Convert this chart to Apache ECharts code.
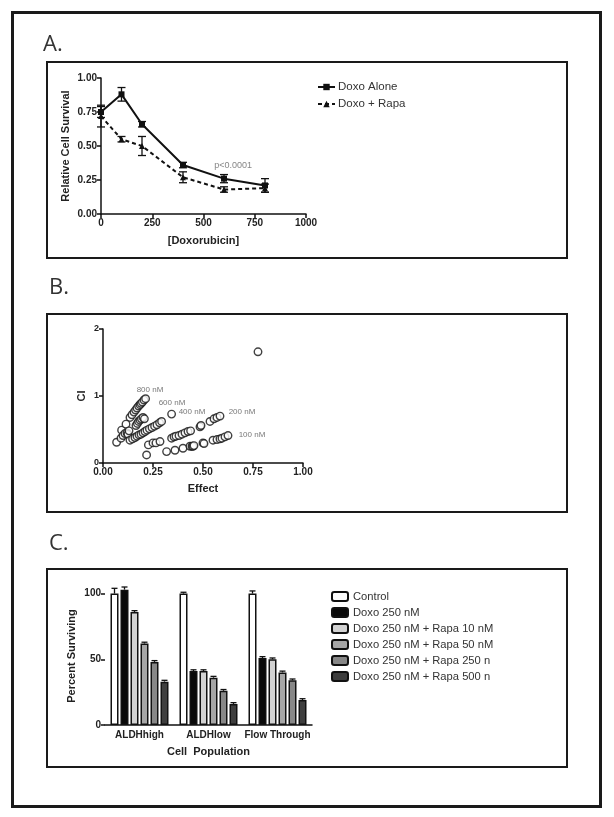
<!DOCTYPE html>
<html><head><meta charset="utf-8">
<script src="https://cdn.jsdelivr.net/npm/echarts@6/dist/echarts.min.js"></script>
<style>html,body{margin:0;padding:0;background:#fff}#c{width:614px;height:817px}</style>
</head><body><div id="c"></div>
<script>
// ---------- Panel A data ----------
const doseA = [0, 100, 200, 400, 600, 800];
const doxoAlone = [0.75, 0.88, 0.66, 0.36, 0.26, 0.21];
const doxoAloneErr = [0.04, 0.05, 0.02, 0.02, 0.03, 0.05];
const doxoRapa = [0.72, 0.55, 0.50, 0.27, 0.18, 0.19];
const doxoRapaErr = [0.08, 0.02, 0.07, 0.04, 0.02, 0.03];
const xTicksA = [0, 250, 500, 750, 1000];
const yTicksA = [0, 0.25, 0.5, 0.75, 1.0];
const pAnnot = [{name: 'p<0.0001', value: [645, 0.355]}];

// ---------- Panel B data (Effect, CI) ----------
const ciPoints = [
  [0.135,0.68],[0.145,0.72],[0.155,0.76],[0.163,0.79],[0.17,0.82],[0.178,0.85],[0.185,0.87],[0.19,0.89],[0.197,0.91],[0.205,0.94],[0.213,0.96],
  [0.068,0.31],[0.09,0.37],[0.093,0.49],[0.1,0.41],[0.11,0.44],[0.115,0.58],[0.12,0.45],[0.125,0.43],[0.13,0.48],
  [0.165,0.56],[0.172,0.59],[0.178,0.62],[0.185,0.64],[0.192,0.66],[0.2,0.68],[0.207,0.66],
  [0.135,0.34],[0.148,0.36],[0.16,0.38],[0.17,0.40],[0.18,0.42],[0.19,0.43],[0.2,0.45],[0.21,0.47],[0.22,0.49],[0.232,0.51],[0.245,0.53],[0.258,0.55],[0.27,0.57],[0.283,0.60],[0.293,0.62],
  [0.343,0.73],
  [0.227,0.27],[0.25,0.30],[0.265,0.30],[0.285,0.32],[0.343,0.37],[0.355,0.39],[0.365,0.40],[0.38,0.41],[0.395,0.43],[0.41,0.45],[0.425,0.47],[0.438,0.48],[0.485,0.54],[0.49,0.56],[0.535,0.62],[0.555,0.66],[0.57,0.68],[0.585,0.70],
  [0.218,0.12],[0.318,0.17],[0.36,0.19],[0.40,0.22],[0.435,0.25],[0.445,0.25],[0.45,0.25],[0.455,0.26],[0.50,0.30],[0.505,0.29],[0.55,0.34],[0.57,0.35],[0.585,0.36],[0.595,0.37],[0.61,0.39],[0.625,0.41],
  [0.775,1.66]
];
const doseLabelsB = [
  {name: '800 nM', value: [0.235, 1.10]},
  {name: '600 nM', value: [0.345, 0.90]},
  {name: '400 nM', value: [0.445, 0.77]},
  {name: '200 nM', value: [0.695, 0.77]},
  {name: '100 nM', value: [0.745, 0.42]}
];
const xTicksB = [0, 0.25, 0.5, 0.75, 1.0];
const yTicksB = [0, 1, 2];

// ---------- Panel C data ----------
const populations = ['ALDHhigh', 'ALDHlow', 'Flow Through'];
const treatments = ['Control', 'Doxo 250 nM', 'Doxo 250 nM + Rapa 10 nM', 'Doxo 250 nM + Rapa 50 nM', 'Doxo 250 nM + Rapa 250 nM', 'Doxo 250 nM + Rapa 500 nM'];
const survival = [
  [100, 100, 100],
  [103, 41, 51],
  [86, 41, 50],
  [62, 36, 40],
  [48, 26, 34],
  [33, 16, 19]
];
const survivalErr = [
  [4, 1, 2],
  [2, 1, 1],
  [1, 1, 1],
  [1, 1, 1],
  [1, 1, 1],
  [1, 1, 1]
];
const yTicksC = [0, 50, 100];
const barColors = ['#ffffff', '#0a0a0a', '#d2d2d2', '#a6a6a6', '#878787', '#3e3e3e'];

// ---------- helpers ----------
const FONT = 'Liberation Sans, Arial, sans-serif';
const axisCommon = {
  axisLine: {lineStyle: {color: '#111', width: 1.5}},
  axisTick: {show: true, length: 4, lineStyle: {color: '#111', width: 1.5}},
  splitLine: {show: false},
  axisLabel: {color: '#222', fontFamily: FONT, fontWeight: 'bold', fontSize: 10, margin: 4},
  nameTextStyle: {color: '#222', fontFamily: FONT, fontWeight: 'bold', fontSize: 11}
};
function ax(extra) { return Object.assign({}, JSON.parse(JSON.stringify(axisCommon)), extra); }

function errRender(capHalf) {
  return function (params, api) {
    const x = api.value(0), lo = api.value(1), hi = api.value(2);
    const p1 = api.coord([x, lo]), p2 = api.coord([x, hi]);
    const st = {stroke: '#111', lineWidth: 1.3};
    return {type: 'group', children: [
      {type: 'line', shape: {x1: p1[0], y1: p1[1], x2: p2[0], y2: p2[1]}, style: st},
      {type: 'line', shape: {x1: p1[0]-capHalf, y1: p1[1], x2: p1[0]+capHalf, y2: p1[1]}, style: st},
      {type: 'line', shape: {x1: p2[0]-capHalf, y1: p2[1], x2: p2[0]+capHalf, y2: p2[1]}, style: st}
    ]};
  };
}

const BAR_W = 8, BAR_GAP = 2;
function barErrRender(params, api) {
  const cat = api.value(0), v = api.value(1), e = api.value(2), k = api.value(3);
  const n = treatments.length;
  const total = n * BAR_W + (n - 1) * BAR_GAP;
  const c = api.coord([cat, v]);
  const cx = c[0] - total / 2 + k * (BAR_W + BAR_GAP) + BAR_W / 2;
  const top = api.coord([cat, v + e])[1];
  const st = {stroke: '#111', lineWidth: 1.3};
  return {type: 'group', children: [
    {type: 'line', shape: {x1: cx, y1: c[1], x2: cx, y2: top}, style: st},
    {type: 'line', shape: {x1: cx - 3, y1: top, x2: cx + 3, y2: top}, style: st}
  ]};
}

const errAloneData = doseA.map((d, i) => [d, doxoAlone[i] - doxoAloneErr[i], doxoAlone[i] + doxoAloneErr[i]]);
const errRapaData = doseA.map((d, i) => [d, doxoRapa[i] - doxoRapaErr[i], doxoRapa[i] + doxoRapaErr[i]]);
const barErrData = [];
survival.forEach((row, k) => row.forEach((v, cat) => barErrData.push([cat, v, survivalErr[k][cat], k])));

const chart = echarts.init(document.getElementById('c'), null, {renderer: 'canvas'});

const panelLabel = (txt, x, y) => ({type: 'text', left: x, top: y, silent: true,
  style: {text: txt, fontFamily: 'Open Sans, sans-serif', fontSize: 22, fill: '#333'}});
const box = (x, y, w, h, lw) => ({type: 'rect', silent: true, z: -1,
  shape: {x: x, y: y, width: w, height: h}, style: {fill: 'none', stroke: '#1a1a1a', lineWidth: lw}});

const option = {
  animation: false,
  backgroundColor: '#fff',
  graphic: [
    box(12.5, 12.5, 588, 794, 3),
    box(47, 62, 520, 196, 2),
    box(47, 314, 520, 198, 2),
    box(47, 569, 520, 198, 2),
    panelLabel('A.', 43, 34),
    panelLabel('B.', 49, 277),
    panelLabel('C.', 49, 533)
  ],
  grid: [
    {left: 101, top: 78, width: 205, height: 136},
    {left: 103, top: 329, width: 200, height: 134},
    {left: 105, top: 587, width: 207, height: 138}
  ],
  legend: [
    {
      data: ['Doxo Alone', 'Doxo + Rapa'], orient: 'vertical', left: 312, top: 76,
      itemWidth: 17, itemHeight: 8, itemGap: 5,
      textStyle: {fontFamily: FONT, fontSize: 11.5, color: '#333', padding: [0, 0, 0, -2]}
    },
    {
      data: treatments, orient: 'vertical', left: 326, top: 586,
      itemWidth: 16, itemHeight: 9, itemGap: 5,
      textStyle: {fontFamily: FONT, fontSize: 11.2, color: '#333', width: 142, overflow: 'truncate', ellipsis: ''}
    }
  ],
  xAxis: [
    ax({gridIndex: 0, type: 'value', min: 0, max: 1000, interval: 250,
      name: '[Doxorubicin]', nameLocation: 'middle', nameGap: 21,
      axisLabel: Object.assign({}, axisCommon.axisLabel, {customValues: xTicksA, formatter: v => String(v)}),
      axisTick: Object.assign({}, axisCommon.axisTick, {customValues: xTicksA})}),
    ax({gridIndex: 1, type: 'value', min: 0, max: 1, interval: 0.25,
      name: 'Effect', nameLocation: 'middle', nameGap: 20,
      axisLabel: Object.assign({}, axisCommon.axisLabel, {customValues: xTicksB, formatter: v => v.toFixed(2)}),
      axisTick: Object.assign({}, axisCommon.axisTick, {customValues: xTicksB})}),
    ax({gridIndex: 2, type: 'category', data: populations,
      name: 'Cell  Population', nameLocation: 'middle', nameGap: 21,
      axisTick: {show: false},
      axisLabel: Object.assign({}, axisCommon.axisLabel, {margin: 5, interval: 0})})
  ],
  yAxis: [
    ax({gridIndex: 0, type: 'value', min: 0, max: 1, interval: 0.25,
      name: 'Relative Cell Survival', nameLocation: 'middle', nameGap: 30,
      axisLabel: Object.assign({}, axisCommon.axisLabel, {customValues: yTicksA, formatter: v => v.toFixed(2)}),
      axisTick: Object.assign({}, axisCommon.axisTick, {customValues: yTicksA})}),
    ax({gridIndex: 1, type: 'value', min: 0, max: 2, interval: 1,
      name: 'CI', nameLocation: 'middle', nameGap: 16,
      axisLabel: Object.assign({}, axisCommon.axisLabel, {customValues: yTicksB, fontSize: 9}),
      axisTick: Object.assign({}, axisCommon.axisTick, {customValues: yTicksB})}),
    ax({gridIndex: 2, type: 'value', min: 0, max: 105, interval: 50,
      name: 'Percent Surviving', nameLocation: 'middle', nameGap: 28,
      axisLabel: Object.assign({}, axisCommon.axisLabel, {customValues: yTicksC}),
      axisTick: Object.assign({}, axisCommon.axisTick, {customValues: yTicksC})})
  ],
  series: [
    {name: 'Doxo Alone', type: 'line', xAxisIndex: 0, yAxisIndex: 0,
      data: doseA.map((d, i) => [d, doxoAlone[i]]),
      symbol: 'rect', symbolSize: 6, lineStyle: {color: '#111', width: 2},
      itemStyle: {color: '#111'}, z: 3},
    {name: 'Doxo + Rapa', type: 'line', xAxisIndex: 0, yAxisIndex: 0,
      data: doseA.map((d, i) => [d, doxoRapa[i]]),
      symbol: 'triangle', symbolSize: 6, lineStyle: {color: '#111', width: 2, type: [4, 3]},
      itemStyle: {color: '#111'}, z: 3},
    {type: 'custom', xAxisIndex: 0, yAxisIndex: 0, data: errAloneData,
      renderItem: errRender(4), z: 4, silent: true},
    {type: 'custom', xAxisIndex: 0, yAxisIndex: 0, data: errRapaData,
      renderItem: errRender(4), z: 4, silent: true},
    {type: 'scatter', xAxisIndex: 0, yAxisIndex: 0, data: pAnnot, symbolSize: 0, silent: true,
      label: {show: true, position: 'inside', formatter: '{b}', fontFamily: FONT, fontSize: 9, color: '#666'}},
    {type: 'scatter', xAxisIndex: 1, yAxisIndex: 1, data: ciPoints, symbol: 'circle', symbolSize: 7.5,
      itemStyle: {color: '#fff', borderColor: '#111', borderWidth: 1.4}, silent: true},
    {type: 'scatter', xAxisIndex: 1, yAxisIndex: 1, data: doseLabelsB, symbolSize: 0, silent: true,
      label: {show: true, position: 'inside', formatter: '{b}', fontFamily: FONT, fontSize: 8, color: '#555'}},
    ...treatments.map((t, k) => ({
      name: t, type: 'bar', xAxisIndex: 2, yAxisIndex: 2,
      data: survival[k], barWidth: BAR_W, barGap: (BAR_GAP / BAR_W * 100) + '%',
      itemStyle: {color: barColors[k], borderColor: '#111', borderWidth: 1.5}
    })),
    {type: 'custom', xAxisIndex: 2, yAxisIndex: 2, data: barErrData, renderItem: barErrRender, z: 4, silent: true}
  ]
};
chart.setOption(option);
</script>
</body></html>
